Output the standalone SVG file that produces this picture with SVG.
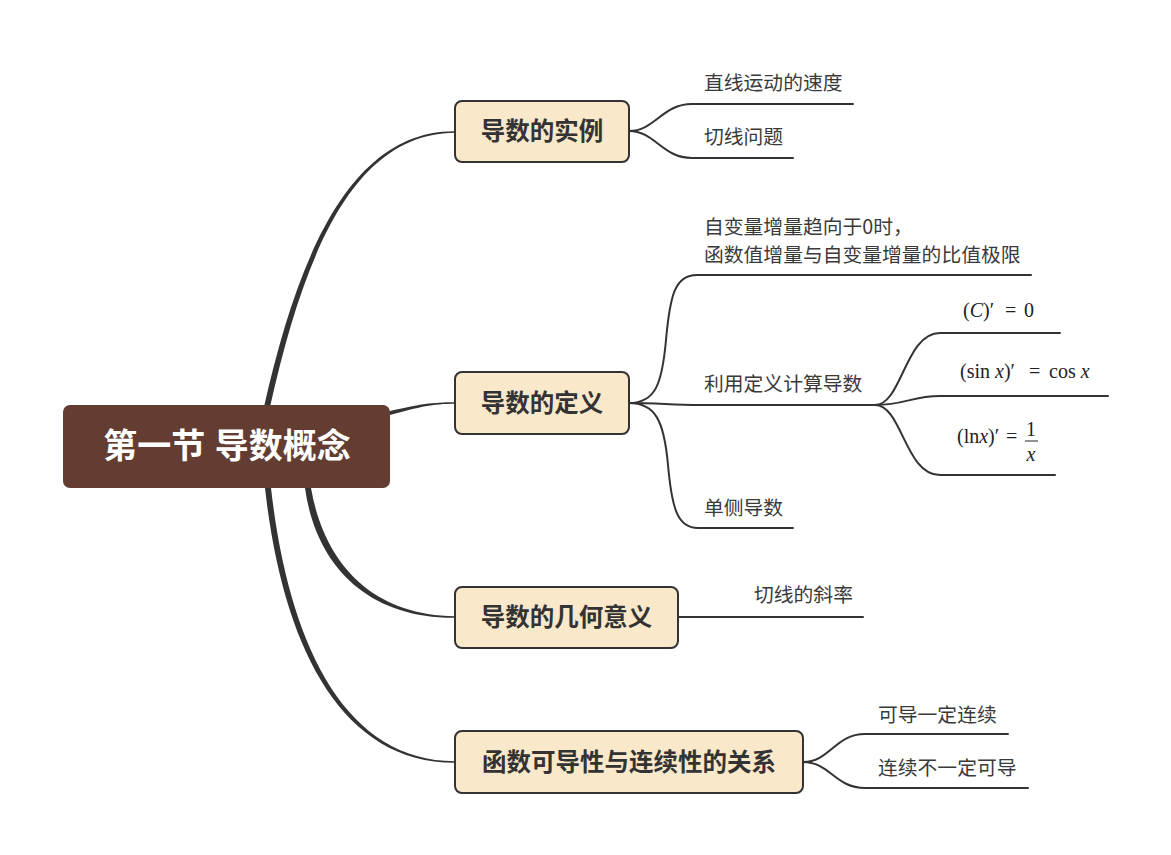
<svg xmlns="http://www.w3.org/2000/svg" width="1171" height="855" viewBox="0 0 1171 855">
<style>
.bg{fill:#ffffff}
.line{fill:none;stroke:#333333;stroke-width:2;stroke-linecap:round}
.taper{fill:#333333;stroke:none}
.root{fill:#633d31;stroke:none}
.rootText{font-family:"Noto Sans CJK SC","Noto Sans",sans-serif;font-size:34px;font-weight:bold;fill:#ffffff}
.topic{fill:#f9e8c9;stroke:#333333;stroke-width:2}
.topicText{font-family:"Noto Sans CJK SC","Noto Sans",sans-serif;font-size:24.5px;font-weight:bold;fill:#333333}
.sub{font-family:"Noto Sans CJK SC","Noto Sans",sans-serif;font-size:19.8px;fill:#3a3a3a}
.math{font-family:"Liberation Serif","DejaVu Serif",serif;font-size:20px;fill:#222222}
.it{font-style:italic}
</style>
<rect class="bg" x="0" y="0" width="1171" height="855"/>
<g id="connectors">
  <path class="taper" d="M264,407 C297,260 349,130.5 455,131.2 L455,132.8 C351,133.5 303,260 270,407 Z"/>
  <path class="taper" d="M390,411 C420,404 432,402.2 455,402.2 L455,403.8 C432,403.8 420,407 390,415 Z"/>
  <path class="taper" d="M305,488 C316,567 369,618.5 455,617.8 L455,616.2 C372,615.5 324,563 311,488 Z"/>
  <path class="taper" d="M265,488 C282,641 338,763 455,762.8 L455,761.2 C342,761 288,639 271,488 Z"/>
  <path class="line" d="M629,131 C655,131 662,104 692,104 L853,104"/>
  <path class="line" d="M629,131 C655,131 662,158 692,158 L793,158"/>
  <path class="line" d="M629,403 C655,403 662,385 666,340 C670,295 675,275 697,275 L1031,275"/>
  <path class="line" d="M629,403 C660,403 670,405 700,405 L880,405"/>
  <path class="line" d="M629,403 C655,403 664,420 668,465 C672,510 678,528 698,528 L793,528"/>
  <path class="line" d="M875,405 C902,405 905,333 940,333 L1060,333"/>
  <path class="line" d="M875,405 C905,405 912,396 940,396 L1108,396"/>
  <path class="line" d="M875,405 C902,405 905,475 940,475 L1055,475"/>
  <path class="line" d="M678,617 L863,617"/>
  <path class="line" d="M803,762 C830,762 835,734 865,734 L1008,734"/>
  <path class="line" d="M803,762 C830,762 835,788 865,788 L1028,788"/>
</g>
<g id="root">
  <rect class="root" x="63" y="405" width="327" height="83" rx="7"/>
  <text class="rootText" x="227" y="458" text-anchor="middle" word-spacing="2">第一节 导数概念</text>
</g>
<g id="topic1">
  <rect class="topic" x="455" y="101" width="174" height="61" rx="7"/>
  <text class="topicText" x="542" y="140" text-anchor="middle">导数的实例</text>
</g>
<g id="topic2">
  <rect class="topic" x="455" y="372" width="174" height="62" rx="7"/>
  <text class="topicText" x="542" y="412" text-anchor="middle">导数的定义</text>
</g>
<g id="topic3">
  <rect class="topic" x="455" y="587" width="223" height="61" rx="7"/>
  <text class="topicText" x="566.5" y="626" text-anchor="middle">导数的几何意义</text>
</g>
<g id="topic4">
  <rect class="topic" x="455" y="731" width="348" height="62" rx="7"/>
  <text class="topicText" x="629" y="771" text-anchor="middle">函数可导性与连续性的关系</text>
</g>
<g id="sub1a"><text class="sub" x="704" y="90">直线运动的速度</text></g>
<g id="sub1b"><text class="sub" x="704" y="144">切线问题</text></g>
<g id="sub2a">
  <text class="sub" x="704" y="234">自变量增量趋向于0时，</text>
  <text class="sub" x="704" y="262">函数值增量与自变量增量的比值极限</text>
</g>
<g id="sub2b"><text class="sub" x="704" y="391">利用定义计算导数</text></g>
<g id="sub2c"><text class="sub" x="704" y="515">单侧导数</text></g>
<g id="math1"><text class="math" x="963" y="317">(<tspan class="it">C</tspan>)′<tspan x="1005">=</tspan><tspan x="1024">0</tspan></text></g>
<g id="math2"><text class="math" x="960" y="378">(sin <tspan class="it">x</tspan>)′<tspan x="1029">=</tspan><tspan x="1049">cos </tspan><tspan class="it">x</tspan></text></g>
<g id="math3">
  <text class="math" x="957" y="443">(ln<tspan class="it">x</tspan>)′<tspan x="1006">=</tspan></text>
  <text class="math" x="1031" y="436" text-anchor="middle">1</text>
  <line x1="1025" y1="441" x2="1038" y2="441" stroke="#222222" stroke-width="1"/>
  <text class="math it" x="1031" y="461" text-anchor="middle">x</text>
</g>
<g id="sub3a"><text class="sub" x="754" y="602">切线的斜率</text></g>
<g id="sub4a"><text class="sub" x="878" y="722">可导一定连续</text></g>
<g id="sub4b"><text class="sub" x="878" y="775">连续不一定可导</text></g>
</svg>
